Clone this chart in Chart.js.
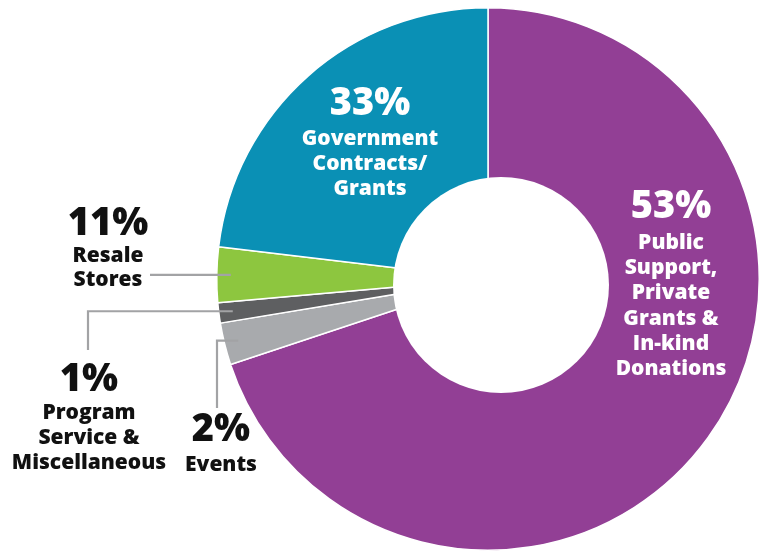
<!DOCTYPE html>
<html>
<head>
<meta charset="utf-8">
<script src="https://cdn.jsdelivr.net/npm/chart.js@4.4.0/dist/chart.umd.min.js"></script>
<style>
  html, body { margin: 0; padding: 0; background: #fff; overflow: hidden; }
  canvas { display: block; }
</style>
</head>
<body>
<canvas id="canvas" width="761" height="553"></canvas>
<script>
// slices go clockwise from 12 o'clock
var categories = ['Public Support, Private Grants & In-kind Donations', 'Events',
  'Program Service & Miscellaneous', 'Resale Stores', 'Government Contracts/ Grants'];
// arc sizes as they are drawn in the picture (the printed % do not match the arcs)
var sliceValues = [69.9, 2.5, 1.2, 3.3, 23.1];
var printedPercent = ['53%', '2%', '1%', '11%', '33%'];
var labelLines = [
  ['Public', 'Support,', 'Private', 'Grants &', 'In-kind', 'Donations'],
  ['Events'],
  ['Program', 'Service &', 'Miscellaneous'],
  ['Resale', 'Stores'],
  ['Government', 'Contracts/', 'Grants']
];
var sliceColors = ['#923f95', '#a8aaad', '#5e5f61', '#8dc63f', '#0a90b5'];

// where the texts sit (layout only)
var labelPos = [
  { x: 671, pct: 207, first: 243, step: 25.2, color: '#fff' },
  { x: 221, pct: 430, first: 465, step: 25, color: '#111', leader: { x: 217, y: 408 } },
  { x: 89, pct: 380, first: 413, step: 25, color: '#111', leader: { x: 88, y: 350 } },
  { x: 108, pct: 224, first: 256, step: 24, color: '#111', leader: { x: 150 } },
  { x: 370, pct: 104, first: 139, step: 25, color: '#fff' }
];

var FONT = '"Open Sans", Lato, sans-serif';

var labelsPlugin = {
  id: 'labels',
  afterDatasetsDraw: function(chart) {
    var ctx = chart.ctx;
    var arcs = chart.getDatasetMeta(0).data;
    var c = arcs[0];
    // the white hole is a bit off-centre in the original
    ctx.save();
    ctx.fillStyle = '#fff';
    ctx.beginPath();
    ctx.arc(c.x + 13, c.y + 6, 108, 0, Math.PI * 2);
    ctx.fill();

    // leader lines
    ctx.strokeStyle = '#a2a3a5';
    ctx.lineWidth = 2.2;
    arcs.forEach(function(a, i) {
      var p = labelPos[i];
      if (!p.leader) return;
      var mid = (a.startAngle + a.endAngle) / 2;
      var ex = a.x + Math.cos(mid) * (a.outerRadius - 14);
      var ey = a.y + Math.sin(mid) * (a.outerRadius - 14);
      ctx.beginPath();
      ctx.moveTo(ex, ey);
      ctx.lineTo(p.leader.x, ey);
      if (p.leader.y) ctx.lineTo(p.leader.x, p.leader.y);
      ctx.stroke();
    });

    // texts
    ctx.textAlign = 'center';
    ctx.textBaseline = 'middle';
    labelPos.forEach(function(p, i) {
      ctx.fillStyle = p.color;
      ctx.font = '800 38px ' + FONT;
      ctx.fillText(printedPercent[i], p.x, p.pct);
      ctx.font = '800 21px ' + FONT;
      labelLines[i].forEach(function(t, j) {
        ctx.fillText(t, p.x, p.first + j * p.step);
      });
    });
    ctx.restore();
  }
};

var ctx = document.getElementById('canvas').getContext('2d');
window.myDoughnut = new Chart(ctx, {
  type: 'doughnut',
  data: {
    labels: categories,
    datasets: [{
      data: sliceValues,
      backgroundColor: sliceColors,
      borderColor: '#fff',
      borderWidth: 1.5
    }]
  },
  options: {
    responsive: false,
    animation: false,
    cutout: '33%',
    layout: { padding: { left: 216, right: 1, top: 7, bottom: 2 } },
    plugins: {
      legend: { display: false },
      tooltip: { enabled: false }
    }
  },
  plugins: [labelsPlugin]
});
</script>
</body>
</html>
